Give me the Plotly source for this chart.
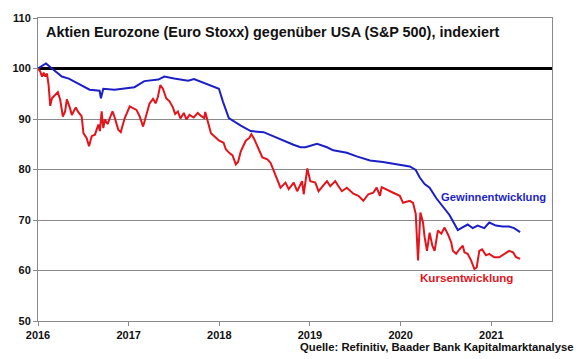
import plotly.graph_objects as go

# --- data (time in decimal years, index 2016 = 100) ---
gewinn_t = [2016.000, 2016.088, 2016.154, 2016.263, 2016.340, 2016.450, 2016.570, 2016.680, 2016.694,
            2016.720, 2016.844, 2017.064, 2017.173, 2017.327, 2017.393, 2017.502, 2017.656, 2017.721,
            2017.798, 2017.941, 2017.996, 2018.039, 2018.105, 2018.237, 2018.346, 2018.489, 2018.643,
            2018.708, 2018.818, 2018.895, 2018.950, 2019.078, 2019.188, 2019.257, 2019.407, 2019.516,
            2019.662, 2019.805, 2019.969, 2020.101, 2020.167, 2020.211, 2020.265, 2020.320, 2020.394,
            2020.463, 2020.539, 2020.594, 2020.631, 2020.668, 2020.740, 2020.795, 2020.850, 2020.923,
            2020.978, 2021.051, 2021.124, 2021.197, 2021.252, 2021.318]
gewinn_v = [100.0, 101.0, 100.0, 98.4, 98.0, 97.0, 95.8, 95.6, 94.1,
            96.0, 95.8, 96.3, 97.5, 97.8, 98.4, 98.0, 97.6, 97.9,
            97.4, 96.4, 96.0, 93.5, 90.2, 88.7, 87.6, 87.4, 86.2,
            85.8, 84.9, 84.4, 84.4, 85.1, 84.4, 83.8, 83.3, 82.6,
            81.8, 81.5, 81.0, 80.6, 79.9, 78.4, 77.1, 76.4, 74.3,
            72.8, 71.0, 69.2, 68.0, 68.4, 69.1, 68.4, 68.9, 68.4,
            69.5, 68.9, 68.7, 68.7, 68.4, 67.6]

kurs_t = [2016.000, 2016.025, 2016.044, 2016.063, 2016.080, 2016.099, 2016.117, 2016.135, 2016.154,
          2016.190, 2016.219, 2016.245, 2016.274, 2016.299, 2016.318, 2016.354, 2016.373, 2016.417,
          2016.439, 2016.482, 2016.501, 2016.537, 2016.563, 2016.592, 2016.628, 2016.666, 2016.683,
          2016.702, 2016.720, 2016.738, 2016.768, 2016.793, 2016.822, 2016.848, 2016.885, 2016.913,
          2016.957, 2017.012, 2017.049, 2017.086, 2017.122, 2017.159, 2017.195, 2017.231, 2017.269,
          2017.297, 2017.323, 2017.349, 2017.378, 2017.414, 2017.451, 2017.488, 2017.513, 2017.543,
          2017.571, 2017.609, 2017.637, 2017.670, 2017.718, 2017.762, 2017.798, 2017.834, 2017.845,
          2017.872, 2017.908, 2017.944, 2017.999, 2018.047, 2018.072, 2018.109, 2018.146, 2018.182,
          2018.207, 2018.237, 2018.266, 2018.292, 2018.328, 2018.354, 2018.383, 2018.427, 2018.475,
          2018.530, 2018.566, 2018.602, 2018.639, 2018.675, 2018.730, 2018.766, 2018.821, 2018.859,
          2018.913, 2018.931, 2018.971, 2019.004, 2019.059, 2019.095, 2019.150, 2019.188, 2019.224,
          2019.279, 2019.315, 2019.352, 2019.407, 2019.479, 2019.534, 2019.589, 2019.644, 2019.698,
          2019.736, 2019.772, 2019.791, 2019.845, 2019.918, 2019.991, 2020.027, 2020.101, 2020.137,
          2020.167, 2020.192, 2020.218, 2020.247, 2020.265, 2020.291, 2020.320, 2020.350, 2020.375,
          2020.411, 2020.449, 2020.485, 2020.521, 2020.558, 2020.576, 2020.613, 2020.649, 2020.686,
          2020.704, 2020.740, 2020.777, 2020.814, 2020.839, 2020.868, 2020.898, 2020.942, 2020.978,
          2021.033, 2021.088, 2021.143, 2021.197, 2021.241, 2021.271, 2021.318]
kurs_v = [100.0, 99.4, 98.4, 99.2, 98.4, 99.0, 96.7, 92.6, 94.1,
          94.8, 95.3, 93.8, 90.5, 91.5, 93.9, 92.1, 90.8, 92.3,
          91.5, 90.5, 87.2, 86.2, 84.6, 86.6, 86.9, 88.9, 87.6,
          91.5, 88.2, 89.9, 89.0, 90.2, 91.5, 90.2, 87.9, 87.4,
          90.2, 92.5, 92.1, 91.8, 90.5, 88.5, 90.8, 93.1, 94.0,
          93.1, 94.4, 96.7, 96.0, 94.1, 93.5, 92.3, 91.0, 91.5,
          90.1, 91.2, 89.9, 90.8, 90.3, 91.2, 90.6, 90.2, 91.4,
          89.5, 87.2, 86.6, 85.7, 85.3, 84.0, 83.3, 82.8, 81.0,
          81.5, 83.6, 84.9, 85.7, 86.2, 87.0, 86.1, 84.3, 82.4,
          82.0, 81.3, 79.7, 78.0, 76.4, 77.4, 76.1, 77.4, 75.7,
          77.7, 75.1, 80.2, 77.7, 77.4, 75.7, 76.9, 77.7, 76.7,
          77.7, 76.7, 75.7, 76.4, 75.2, 74.8, 73.8, 75.1, 75.4,
          76.4, 74.8, 76.5, 76.1, 75.4, 74.8, 73.4, 73.8, 73.4,
          71.2, 62.0, 71.5, 69.5, 66.6, 63.9, 67.5, 64.9, 63.9,
          67.9, 67.3, 68.5, 67.2, 65.6, 63.9, 63.3, 64.2, 64.9,
          63.6, 63.3, 62.0, 60.3, 60.6, 63.9, 64.2, 63.0, 63.3,
          62.6, 62.6, 63.3, 63.9, 63.6, 62.7, 62.3]

year_ticks = [2016, 2017, 2018, 2019, 2020, 2021]
year_labels = ["2016", "2017", "2018", "2019", "2020", "2021"]
y_ticks = [50, 60, 70, 80, 90, 100, 110]
baseline = 100
grid_vals = [v for v in y_ticks if v != baseline]

BLUE = "#1c1fc6"
RED = "#e3141b"
GRID = "#8a8a8a"
FONT = "Liberation Sans, Arial, sans-serif"

fig = go.Figure()
fig.add_trace(go.Scatter(x=gewinn_t, y=gewinn_v, mode="lines",
                         line=dict(color=BLUE, width=2), showlegend=False))
fig.add_trace(go.Scatter(x=kurs_t, y=kurs_v, mode="lines",
                         line=dict(color=RED, width=2), showlegend=False))

# baseline at 100 (thick black)
fig.add_shape(type="line", xref="paper", x0=0, x1=1, yref="y", y0=baseline, y1=baseline,
              line=dict(color="black", width=3), layer="between")

fig.add_annotation(text="<b>Aktien Eurozone (Euro Stoxx) gegenüber USA (S&P 500), indexiert</b>",
                   xref="paper", x=0.011, yref="y", y=107.3, xanchor="left", yanchor="middle",
                   showarrow=False, font=dict(family=FONT, size=14.4, color="#111111"))
fig.add_annotation(text="<b>Gewinnentwicklung</b>", xref="x", x=2020.425, yref="y", y=74.6,
                   xanchor="left", yanchor="middle", showarrow=False,
                   font=dict(family=FONT, size=11.2, color=BLUE))
fig.add_annotation(text="<b>Kursentwicklung</b>", xref="x", x=2020.195, yref="y", y=58.6,
                   xanchor="left", yanchor="middle", showarrow=False,
                   font=dict(family=FONT, size=11.6, color=RED))
fig.add_annotation(text="<b>Quelle: Refinitiv, Baader Bank Kapitalmarktanalyse</b>",
                   xref="paper", x=1.047, yref="paper", y=-0.085, xanchor="right", yanchor="middle",
                   showarrow=False, font=dict(family=FONT, size=11.3, color="#111111"))

fig.update_layout(
    width=580, height=359,
    margin=dict(l=36, r=28, t=16, b=38),
    paper_bgcolor="white", plot_bgcolor="white",
    font=dict(family=FONT, size=11, color="#111111"),
    xaxis=dict(range=[2016, 2021.67], tickvals=year_ticks, ticktext=["<b>%s</b>" % s for s in year_labels],
               showgrid=False, zeroline=False, showline=True, linecolor=GRID, linewidth=1,
               mirror=True, ticks="outside", ticklen=4, tickcolor=GRID,
               tickfont=dict(family=FONT, size=11, color="#111111")),
    yaxis=dict(range=[50, 110], tickvals=y_ticks, ticktext=["<b>%d</b>" % v for v in y_ticks],
               showgrid=False, zeroline=False,
               minor=dict(tickmode="array", tickvals=grid_vals, showgrid=True,
                          gridcolor=GRID, gridwidth=1, ticks=""),
               showline=True, linecolor=GRID, linewidth=1, mirror=True,
               ticks="outside", ticklen=4, tickcolor=GRID,
               tickfont=dict(family=FONT, size=11, color="#111111")),
)

fig.write_html("out.html", config={"displayModeBar": False})

# remove the default page margin so the figure sits at the window's top-left corner
with open("out.html", "r", encoding="utf-8") as fh:
    html = fh.read()
html = html.replace("<head>", "<head><style>html,body{margin:0;padding:0;overflow:hidden}</style>", 1)
with open("out.html", "w", encoding="utf-8") as fh:
    fh.write(html)
